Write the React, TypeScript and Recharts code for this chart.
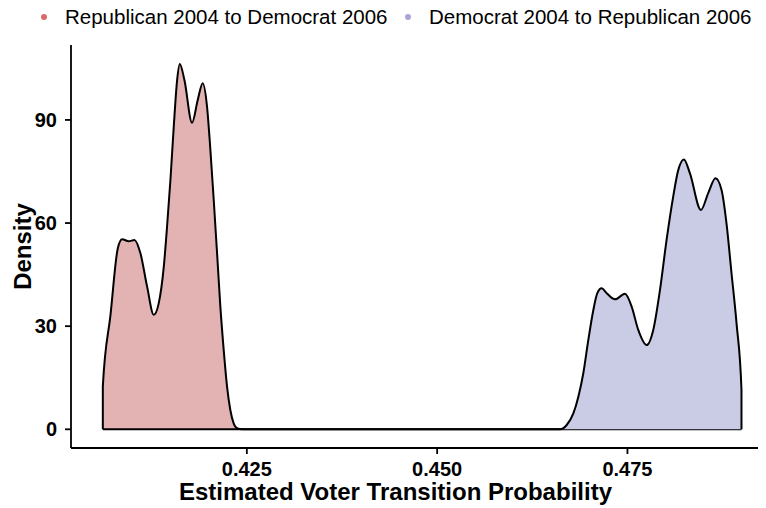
import React from "react";
import { ComposedChart, Area, XAxis, YAxis, Legend, Label } from "recharts";

// density estimates, one array per group
const REP_X = [
  0.40608, 0.40608, 0.40709, 0.40805, 0.40862, 0.40949, 0.41024, 0.41102, 0.4119, 0.41277, 0.41343,
  0.41409, 0.41452, 0.41496, 0.4154, 0.41584, 0.41619, 0.4168, 0.4178, 0.41855, 0.4192, 0.41977,
  0.42021, 0.42065, 0.42109, 0.42152, 0.42196, 0.4224, 0.42283, 0.42327, 0.42371, 0.42437, 0.48998,
];
const REP_Y = [
  0, 12.4, 33.3, 52.7, 55.3, 54.7, 55.1, 51.2, 41.5, 33.3, 36.7, 47.3, 59.0, 72.5, 88.1, 101.6, 106.3,
  101.6, 89.2, 95.8, 100.7, 93.9, 81.3, 66.7, 51.2, 35.7, 23.1, 12.4, 5.6, 1.7, 0.3, 0, 0,
];

const DEM_X = [
  0.40608, 0.46614, 0.46702, 0.46789, 0.46855, 0.4692, 0.46986, 0.47052, 0.47104, 0.47161, 0.47227,
  0.47336, 0.47467, 0.47555, 0.47642, 0.47752, 0.47839, 0.47927, 0.48014, 0.48101, 0.48167, 0.48242,
  0.4832, 0.48465, 0.48561, 0.48657, 0.48736, 0.48801, 0.48867, 0.48933, 0.48998, 0.48998,
];
const DEM_Y = [
  0, 0, 1.25, 4.65, 9.5, 16.3, 26.0, 34.7, 39.6, 41.0, 39.6, 37.8, 39.4, 35.7, 28.9, 24.5, 28.9, 40.5,
  55.1, 67.7, 75.4, 78.5, 74.5, 63.8, 68.7, 73.0, 69.6, 59.9, 45.4, 30.8, 11.4, 0,
];

const X_TICKS = [0.425, 0.45, 0.475];
const Y_TICKS = [0, 30, 60, 90];

const SERIES = [
  { key: "rep", name: "Republican 2004 to Democrat 2006", fill: "#E3B3B3", dot: "#D96A6A" },
  { key: "dem", name: "Democrat 2004 to Republican 2006", fill: "#CACBE5", dot: "#A8A5DA" },
];

const FONT = '"Liberation Sans", Arial, Helvetica, sans-serif';

// one table, stable-sorted by x; each row carries only one group's value
const rows = [
  ...REP_X.map((x, i) => ({ x, rep: REP_Y[i] })),
  ...DEM_X.map((x, i) => ({ x, dem: DEM_Y[i] })),
].sort((a, b) => a.x - b.x);

function TopLegend() {
  const lefts = [33, 397];
  return (
    <div style={{ position: "relative", height: 41, fontFamily: FONT, fontSize: 20.5, color: "#000" }}>
      {SERIES.map((s, i) => (
        <div
          key={s.key}
          style={{
            position: "absolute",
            left: lefts[i],
            top: 0,
            height: 26,
            lineHeight: "26px",
            display: "flex",
            alignItems: "center",
            whiteSpace: "nowrap",
          }}
        >
          <span
            style={{ width: 6, height: 6, borderRadius: 3, background: s.dot, marginRight: 18, display: "inline-block" }}
          />
          <span>{s.name}</span>
        </div>
      ))}
    </div>
  );
}

const tickStyle = { fontSize: 20, fontWeight: 700, fill: "#000", fontFamily: FONT };

export default function App() {
  return (
    <div style={{ width: 758, height: 504, marginTop: -4, overflow: "hidden" }}>
      <ComposedChart width={758} height={504} data={rows} margin={{ top: 0, right: 0, bottom: 0, left: 0 }}>
        <Legend verticalAlign="top" align="left" content={() => <TopLegend />} />
        <XAxis
          dataKey="x"
          type="number"
          domain={[0.4019, 0.4932]}
          ticks={X_TICKS}
          tickFormatter={(v: number) => v.toFixed(3)}
          allowDataOverflow
          height={60}
          stroke="#000"
          strokeWidth={1.8}
          tickSize={6}
          tickMargin={8}
          tick={tickStyle}
        >
          <Label
            content={({ viewBox }: any) => (
              <text
                x={viewBox.x + viewBox.width / 2 - 23}
                y={viewBox.y + 52}
                textAnchor="middle"
                fontFamily={FONT}
                fontSize={24}
                fontWeight={700}
                fill="#000"
              >
                Estimated Voter Transition Probability
              </text>
            )}
          />
        </XAxis>
        <YAxis
          type="number"
          domain={[-5.44, 111.8]}
          ticks={Y_TICKS}
          allowDataOverflow
          width={63}
          stroke="#000"
          strokeWidth={1.8}
          tickSize={6}
          tickMargin={8}
          tick={tickStyle}
        >
          <Label
            content={({ viewBox }: any) => {
              const cx = 14;
              const cy = viewBox.y + viewBox.height / 2;
              return (
                <text
                  x={cx}
                  y={cy}
                  transform={`rotate(-90, ${cx}, ${cy})`}
                  textAnchor="middle"
                  dominantBaseline="central"
                  fontFamily={FONT}
                  fontSize={24}
                  fontWeight={700}
                  fill="#000"
                >
                  Density
                </text>
              );
            }}
          />
        </YAxis>
        {SERIES.map((s) => (
          <Area
            key={s.key}
            dataKey={s.key}
            name={s.name}
            type="monotone"
            baseValue={0}
            connectNulls
            fill={s.fill}
            fillOpacity={1}
            stroke="#000"
            strokeWidth={2}
            dot={false}
            activeDot={false}
            isAnimationActive={false}
          />
        ))}
      </ComposedChart>
    </div>
  );
}
